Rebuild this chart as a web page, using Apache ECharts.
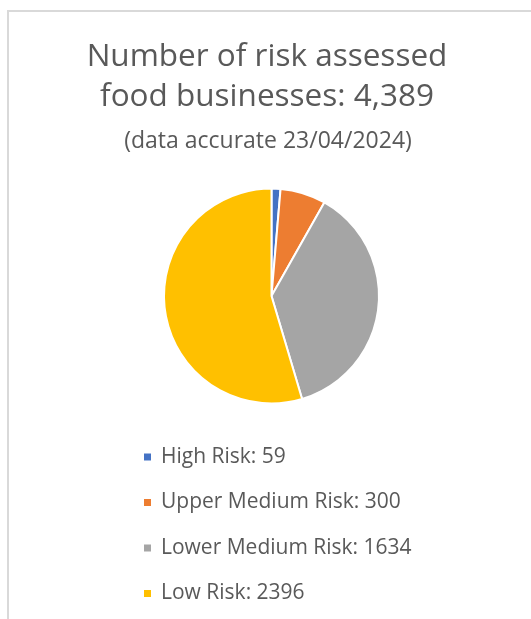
<!DOCTYPE html>
<html><head><meta charset="utf-8">
<script src="https://cdn.jsdelivr.net/npm/echarts@6/dist/echarts.min.js"></script>
<style>html,body{margin:0;padding:0;background:#fff}#c{width:531px;height:619px}</style>
</head><body><div id="c"></div>
<script>
const categories = ['High Risk', 'Upper Medium Risk', 'Lower Medium Risk', 'Low Risk'];
const values = [59, 300, 1634, 2396];
const colors = ['#4472C4', '#ED7D31', '#A5A5A5', '#FFC000'];
const titleLines = ['Number of risk assessed', 'food businesses: 4,389'];
const subtitle = '(data accurate 23/04/2024)';

const chart = echarts.init(document.getElementById('c'));
const font = 'Open Sans';
chart.setOption({
  animation: false,
  color: colors,
  title: [
    { text: titleLines.join('\n'), left: 262, top: 32, textAlign: 'center',
      textStyle: { fontFamily: font, fontSize: 31.5, fontWeight: 'normal', color: '#595959', lineHeight: 40 } },
    { text: subtitle, left: 263, top: 122, textAlign: 'center',
      textStyle: { fontFamily: font, fontSize: 23, fontWeight: 'normal', color: '#595959', lineHeight: 28 } }
  ],
  graphic: [
    { type: 'line', shape: { x1: 7, y1: 11, x2: 531, y2: 11 }, style: { stroke: '#d9d9d9', lineWidth: 2 } },
    { type: 'line', shape: { x1: 8, y1: 10, x2: 8, y2: 619 }, style: { stroke: '#d9d9d9', lineWidth: 2 } }
  ],
  legend: {
    orient: 'vertical', left: 142, top: 445, padding: 0, itemGap: 21.5, itemWidth: 9, itemHeight: 9,
    icon: 'rect',
    formatter: function (name) { return name + ': ' + values[categories.indexOf(name)]; },
    textStyle: { fontFamily: font, fontSize: 21, color: '#595959', lineHeight: 24, padding: [0, 0, 0, 4] },
    data: categories
  },
  series: [{
    type: 'pie', center: [271.5, 296], radius: 107.5, startAngle: 90, clockwise: true,
    label: { show: false }, labelLine: { show: false },
    itemStyle: { borderColor: '#fff', borderWidth: 2 },
    emphasis: { disabled: true },
    data: categories.map((c, i) => ({ name: c, value: values[i] }))
  }]
});
</script></body></html>
